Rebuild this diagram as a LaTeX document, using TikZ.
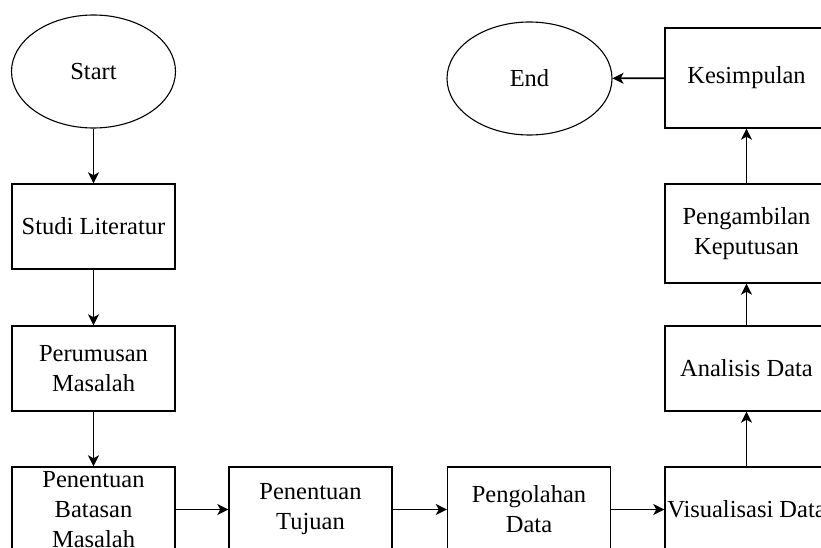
\documentclass[tikz,border=0pt]{standalone}
\usepackage{fontspec}
\setmainfont{Liberation Serif}
\usetikzlibrary{shapes.geometric,arrows.meta}
\begin{document}
\begin{tikzpicture}[x=1pt,y=-1pt,
  every node/.style={font=\fontsize{24.5}{30}\selectfont, align=center, inner sep=0pt},
  procbox/.style={draw, line width=1.4pt, rectangle, minimum width=163pt, minimum height=85pt},
  termin/.style={draw, line width=1.1pt, ellipse, minimum width=164pt, minimum height=113pt},
  flow/.style={line width=1.7pt, -{Stealth[length=11pt,width=11pt,inset=3pt]}}]
\useasboundingbox (0,0) rectangle (821,548);
\clip (0,0) rectangle (821,548);
\fill[white] (0,0) rectangle (821,548);
\node[termin] (start) at (93.5,71.5) {Start};
\node[procbox] (studi) at (93.5,226.5) {Studi Literatur};
\node[procbox] (perumusan) at (93.5,368.5) {Perumusan\\Masalah};
\node[procbox] (batasan) at (93.5,509.5) {Penentuan\\Batasan\\Masalah};
\node[procbox] (tujuan) at (310.5,509.5) {Penentuan\\Tujuan};
\node[procbox] (pengolahan) at (529,509.5) {Pengolahan\\Data};
\node[procbox] (visual) at (746.5,509.5) {Visualisasi Data};
\node[procbox] (analisis) at (746.5,368.5) {Analisis Data};
\node[procbox, minimum height=99pt] (pengambilan) at (746.5,233.5) {Pengambilan\\Keputusan};
\node[procbox, minimum height=100pt] (kesimpulan) at (746.5,78) {Kesimpulan};
\node[termin, minimum width=165pt] (end) at (529.5,78.5) {End};
\draw[flow] (start) -- (studi);
\draw[flow] (studi) -- (perumusan);
\draw[flow] (perumusan) -- (batasan);
\draw[flow] (batasan) -- (tujuan);
\draw[flow] (tujuan) -- (pengolahan);
\draw[flow] (pengolahan) -- (visual);
\draw[flow] (visual) -- (analisis);
\draw[flow] (analisis) -- (pengambilan);
\draw[flow] (pengambilan) -- (kesimpulan);
\draw[flow] (kesimpulan) -- (end);
\end{tikzpicture}
\end{document}
